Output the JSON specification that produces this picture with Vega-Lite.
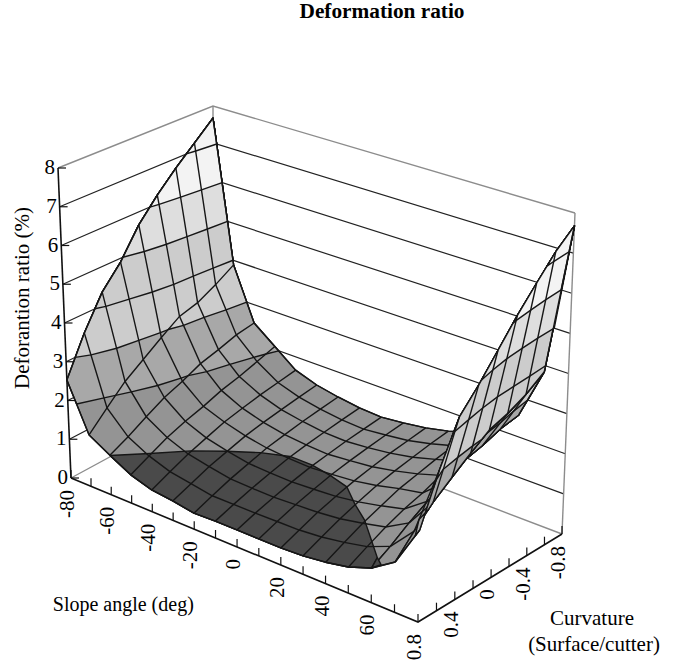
{"$schema":"https://vega.github.io/schema/vega-lite/v6.json","width":685,"height":665,"padding":0,"autosize":{"type":"none"},"background":"white","config":{"view":{"stroke":null}},
"data":{"values":[
{"set":"w","id":"l1","tone":"grid","slope":-80,"curvature":0.8,"ratio":1},{"set":"w","id":"l1","tone":"grid","slope":-80,"curvature":-0.8,"ratio":1},{"set":"w","id":"l1","tone":"grid","slope":80,"curvature":-0.8,"ratio":1},
{"set":"w","id":"l2","tone":"grid","slope":-80,"curvature":0.8,"ratio":2},{"set":"w","id":"l2","tone":"grid","slope":-80,"curvature":-0.8,"ratio":2},{"set":"w","id":"l2","tone":"grid","slope":80,"curvature":-0.8,"ratio":2},
{"set":"w","id":"l3","tone":"grid","slope":-80,"curvature":0.8,"ratio":3},{"set":"w","id":"l3","tone":"grid","slope":-80,"curvature":-0.8,"ratio":3},{"set":"w","id":"l3","tone":"grid","slope":80,"curvature":-0.8,"ratio":3},
{"set":"w","id":"l4","tone":"grid","slope":-80,"curvature":0.8,"ratio":4},{"set":"w","id":"l4","tone":"grid","slope":-80,"curvature":-0.8,"ratio":4},{"set":"w","id":"l4","tone":"grid","slope":80,"curvature":-0.8,"ratio":4},
{"set":"w","id":"l5","tone":"grid","slope":-80,"curvature":0.8,"ratio":5},{"set":"w","id":"l5","tone":"grid","slope":-80,"curvature":-0.8,"ratio":5},{"set":"w","id":"l5","tone":"grid","slope":80,"curvature":-0.8,"ratio":5},
{"set":"w","id":"l6","tone":"grid","slope":-80,"curvature":0.8,"ratio":6},{"set":"w","id":"l6","tone":"grid","slope":-80,"curvature":-0.8,"ratio":6},{"set":"w","id":"l6","tone":"grid","slope":80,"curvature":-0.8,"ratio":6},
{"set":"w","id":"l7","tone":"grid","slope":-80,"curvature":0.8,"ratio":7},{"set":"w","id":"l7","tone":"grid","slope":-80,"curvature":-0.8,"ratio":7},{"set":"w","id":"l7","tone":"grid","slope":80,"curvature":-0.8,"ratio":7},
{"set":"w","id":"l0","tone":"frame","slope":-80,"curvature":0.8,"ratio":0},{"set":"w","id":"l0","tone":"frame","slope":-80,"curvature":-0.8,"ratio":0},{"set":"w","id":"l0","tone":"frame","slope":80,"curvature":-0.8,"ratio":0},
{"set":"w","id":"l8","tone":"frame","slope":-80,"curvature":0.8,"ratio":8},{"set":"w","id":"l8","tone":"frame","slope":-80,"curvature":-0.8,"ratio":8},{"set":"w","id":"l8","tone":"frame","slope":80,"curvature":-0.8,"ratio":8},
{"set":"w","id":"vb","tone":"frame","slope":-80,"curvature":-0.8,"ratio":0},{"set":"w","id":"vb","tone":"frame","slope":-80,"curvature":-0.8,"ratio":8},
{"set":"w","id":"vr","tone":"frame","slope":80,"curvature":-0.8,"ratio":0},{"set":"w","id":"vr","tone":"frame","slope":80,"curvature":-0.8,"ratio":8},
{"set":"w","id":"az","tone":"axis","slope":-80,"curvature":0.8,"ratio":0},{"set":"w","id":"az","tone":"axis","slope":-80,"curvature":0.8,"ratio":8},
{"set":"w","id":"as","tone":"axis","slope":-80,"curvature":0.8,"ratio":0},{"set":"w","id":"as","tone":"axis","slope":80,"curvature":0.8,"ratio":0},{"set":"w","id":"as","tone":"axis","slope":80,"curvature":-0.8,"ratio":0},

{"set":"t","axis":"slope","slope":-80,"curvature":0.8,"ratio":0,"label":"-80"},{"set":"t","axis":"slope","slope":-70,"curvature":0.8,"ratio":0},{"set":"t","axis":"slope","slope":-60,"curvature":0.8,"ratio":0,"label":"-60"},{"set":"t","axis":"slope","slope":-50,"curvature":0.8,"ratio":0},{"set":"t","axis":"slope","slope":-40,"curvature":0.8,"ratio":0,"label":"-40"},{"set":"t","axis":"slope","slope":-30,"curvature":0.8,"ratio":0},{"set":"t","axis":"slope","slope":-20,"curvature":0.8,"ratio":0,"label":"-20"},{"set":"t","axis":"slope","slope":-10,"curvature":0.8,"ratio":0},{"set":"t","axis":"slope","slope":0,"curvature":0.8,"ratio":0,"label":"0"},{"set":"t","axis":"slope","slope":10,"curvature":0.8,"ratio":0},{"set":"t","axis":"slope","slope":20,"curvature":0.8,"ratio":0,"label":"20"},{"set":"t","axis":"slope","slope":30,"curvature":0.8,"ratio":0},{"set":"t","axis":"slope","slope":40,"curvature":0.8,"ratio":0,"label":"40"},{"set":"t","axis":"slope","slope":50,"curvature":0.8,"ratio":0},{"set":"t","axis":"slope","slope":60,"curvature":0.8,"ratio":0,"label":"60"},{"set":"t","axis":"slope","slope":70,"curvature":0.8,"ratio":0},
{"set":"t","axis":"curvature","slope":80,"curvature":0.8,"ratio":0,"label":"0.8"},{"set":"t","axis":"curvature","slope":80,"curvature":0.6,"ratio":0},{"set":"t","axis":"curvature","slope":80,"curvature":0.4,"ratio":0,"label":"0.4"},{"set":"t","axis":"curvature","slope":80,"curvature":0.2,"ratio":0},{"set":"t","axis":"curvature","slope":80,"curvature":0,"ratio":0,"label":"0"},{"set":"t","axis":"curvature","slope":80,"curvature":-0.2,"ratio":0},{"set":"t","axis":"curvature","slope":80,"curvature":-0.4,"ratio":0,"label":"-0.4"},{"set":"t","axis":"curvature","slope":80,"curvature":-0.6,"ratio":0},{"set":"t","axis":"curvature","slope":80,"curvature":-0.8,"ratio":0,"label":"-0.8"},
{"set":"t","axis":"ratio","slope":-80,"curvature":0.8,"ratio":0,"label":"0"},{"set":"t","axis":"ratio","slope":-80,"curvature":0.8,"ratio":1,"label":"1"},{"set":"t","axis":"ratio","slope":-80,"curvature":0.8,"ratio":2,"label":"2"},{"set":"t","axis":"ratio","slope":-80,"curvature":0.8,"ratio":3,"label":"3"},{"set":"t","axis":"ratio","slope":-80,"curvature":0.8,"ratio":4,"label":"4"},{"set":"t","axis":"ratio","slope":-80,"curvature":0.8,"ratio":5,"label":"5"},{"set":"t","axis":"ratio","slope":-80,"curvature":0.8,"ratio":6,"label":"6"},{"set":"t","axis":"ratio","slope":-80,"curvature":0.8,"ratio":7,"label":"7"},{"set":"t","axis":"ratio","slope":-80,"curvature":0.8,"ratio":8,"label":"8"},

{"set":"n","slope":-80,"curvature":-0.8,"ratio":8,"label":"Deformation ratio"},{"set":"n","slope":-40,"curvature":0.8,"ratio":0,"label":"Slope angle (deg)"},{"set":"n","slope":80,"curvature":-0.8,"ratio":0,"label":"Curvature"},{"set":"n","slope":80,"curvature":-0.8,"ratio":0,"label":"(Surface/cutter)"},{"set":"n","slope":-80,"curvature":0.8,"ratio":4,"label":"Deforantion ratio (%)"},

{"set":"p","part":"main","id":"m0","band":"1-2","slope":-80,"curvature":0.8,"ratio":2.53},{"set":"p","part":"main","id":"m0","band":"1-2","slope":-70,"curvature":0.8,"ratio":1.32},{"set":"p","part":"main","id":"m0","band":"1-2","slope":-60,"curvature":0.8,"ratio":1.01},{"set":"p","part":"main","id":"m0","band":"1-2","slope":-50,"curvature":0.8,"ratio":0.72},{"set":"p","part":"main","id":"m0","band":"1-2","slope":-40,"curvature":0.8,"ratio":0.55},{"set":"p","part":"main","id":"m0","band":"1-2","slope":-30,"curvature":0.8,"ratio":0.49},{"set":"p","part":"main","id":"m0","band":"1-2","slope":-20,"curvature":0.8,"ratio":0.4},{"set":"p","part":"main","id":"m0","band":"1-2","slope":-10,"curvature":0.8,"ratio":0.42},{"set":"p","part":"main","id":"m0","band":"1-2","slope":0,"curvature":0.8,"ratio":0.42},{"set":"p","part":"main","id":"m0","band":"1-2","slope":10,"curvature":0.8,"ratio":0.42},{"set":"p","part":"main","id":"m0","band":"1-2","slope":20,"curvature":0.8,"ratio":0.42},{"set":"p","part":"main","id":"m0","band":"1-2","slope":30,"curvature":0.8,"ratio":0.45},{"set":"p","part":"main","id":"m0","band":"1-2","slope":40,"curvature":0.8,"ratio":0.52},{"set":"p","part":"main","id":"m0","band":"1-2","slope":50,"curvature":0.8,"ratio":0.63},{"set":"p","part":"main","id":"m0","band":"1-2","slope":60,"curvature":0.8,"ratio":0.83},{"set":"p","part":"main","id":"m0","band":"1-2","slope":60,"curvature":0.6,"ratio":1.09},{"set":"p","part":"main","id":"m0","band":"1-2","slope":60,"curvature":0.4,"ratio":1.4},{"set":"p","part":"main","id":"m0","band":"1-2","slope":60,"curvature":0.2,"ratio":1.67},{"set":"p","part":"main","id":"m0","band":"1-2","slope":60,"curvature":0,"ratio":1.88},{"set":"p","part":"main","id":"m0","band":"1-2","slope":60,"curvature":-0.2,"ratio":2.17},{"set":"p","part":"main","id":"m0","band":"1-2","slope":60,"curvature":-0.4,"ratio":2.29},{"set":"p","part":"main","id":"m0","band":"1-2","slope":60,"curvature":-0.6,"ratio":2.46},{"set":"p","part":"main","id":"m0","band":"1-2","slope":60,"curvature":-0.8,"ratio":2.55},{"set":"p","part":"main","id":"m0","band":"1-2","slope":50,"curvature":-0.8,"ratio":2},{"set":"p","part":"main","id":"m0","band":"1-2","slope":40,"curvature":-0.8,"ratio":1.68},{"set":"p","part":"main","id":"m0","band":"1-2","slope":30,"curvature":-0.8,"ratio":1.51},{"set":"p","part":"main","id":"m0","band":"1-2","slope":20,"curvature":-0.8,"ratio":1.38},{"set":"p","part":"main","id":"m0","band":"1-2","slope":10,"curvature":-0.8,"ratio":1.3},{"set":"p","part":"main","id":"m0","band":"1-2","slope":0,"curvature":-0.8,"ratio":1.24},{"set":"p","part":"main","id":"m0","band":"1-2","slope":-10,"curvature":-0.8,"ratio":1.27},{"set":"p","part":"main","id":"m0","band":"1-2","slope":-20,"curvature":-0.8,"ratio":1.35},{"set":"p","part":"main","id":"m0","band":"1-2","slope":-30,"curvature":-0.8,"ratio":1.46},{"set":"p","part":"main","id":"m0","band":"1-2","slope":-40,"curvature":-0.8,"ratio":1.65},{"set":"p","part":"main","id":"m0","band":"1-2","slope":-50,"curvature":-0.8,"ratio":2.08},{"set":"p","part":"main","id":"m0","band":"1-2","slope":-60,"curvature":-0.8,"ratio":2.51},{"set":"p","part":"main","id":"m0","band":"1-2","slope":-70,"curvature":-0.8,"ratio":3.88},{"set":"p","part":"main","id":"m0","band":"1-2","slope":-80,"curvature":-0.8,"ratio":7.67},{"set":"p","part":"main","id":"m0","band":"1-2","slope":-80,"curvature":-0.6,"ratio":7.2},{"set":"p","part":"main","id":"m0","band":"1-2","slope":-80,"curvature":-0.4,"ratio":6.74},{"set":"p","part":"main","id":"m0","band":"1-2","slope":-80,"curvature":-0.2,"ratio":6.23},{"set":"p","part":"main","id":"m0","band":"1-2","slope":-80,"curvature":0,"ratio":5.66},{"set":"p","part":"main","id":"m0","band":"1-2","slope":-80,"curvature":0.2,"ratio":4.9},{"set":"p","part":"main","id":"m0","band":"1-2","slope":-80,"curvature":0.4,"ratio":4.34},{"set":"p","part":"main","id":"m0","band":"1-2","slope":-80,"curvature":0.6,"ratio":3.51},{"set":"p","part":"main","id":"m0","band":"1-2","slope":-80,"curvature":0.8,"ratio":2.53},

{"set":"p","part":"main","id":"m1","band":"0-1","slope":-60,"curvature":0.8,"ratio":1},{"set":"p","part":"main","id":"m1","band":"0-1","slope":-50,"curvature":0.59,"ratio":1},{"set":"p","part":"main","id":"m1","band":"0-1","slope":-40,"curvature":0.37,"ratio":1},{"set":"p","part":"main","id":"m1","band":"0-1","slope":-30,"curvature":0.21,"ratio":1},{"set":"p","part":"main","id":"m1","band":"0-1","slope":-20,"curvature":0.07,"ratio":1},{"set":"p","part":"main","id":"m1","band":"0-1","slope":-10,"curvature":-0.02,"ratio":1},{"set":"p","part":"main","id":"m1","band":"0-1","slope":0,"curvature":-0.02,"ratio":1},{"set":"p","part":"main","id":"m1","band":"0-1","slope":10,"curvature":0.02,"ratio":1},{"set":"p","part":"main","id":"m1","band":"0-1","slope":20,"curvature":0.08,"ratio":1},{"set":"p","part":"main","id":"m1","band":"0-1","slope":30,"curvature":0.24,"ratio":1},{"set":"p","part":"main","id":"m1","band":"0-1","slope":40,"curvature":0.38,"ratio":1},{"set":"p","part":"main","id":"m1","band":"0-1","slope":50,"curvature":0.56,"ratio":1},{"set":"p","part":"main","id":"m1","band":"0-1","slope":60,"curvature":0.74,"ratio":1},{"set":"p","part":"main","id":"m1","band":"0-1","slope":60,"curvature":0.8,"ratio":0.83},{"set":"p","part":"main","id":"m1","band":"0-1","slope":50,"curvature":0.8,"ratio":0.63},{"set":"p","part":"main","id":"m1","band":"0-1","slope":40,"curvature":0.8,"ratio":0.52},{"set":"p","part":"main","id":"m1","band":"0-1","slope":30,"curvature":0.8,"ratio":0.45},{"set":"p","part":"main","id":"m1","band":"0-1","slope":20,"curvature":0.8,"ratio":0.42},{"set":"p","part":"main","id":"m1","band":"0-1","slope":10,"curvature":0.8,"ratio":0.42},{"set":"p","part":"main","id":"m1","band":"0-1","slope":0,"curvature":0.8,"ratio":0.42},{"set":"p","part":"main","id":"m1","band":"0-1","slope":-10,"curvature":0.8,"ratio":0.42},{"set":"p","part":"main","id":"m1","band":"0-1","slope":-20,"curvature":0.8,"ratio":0.4},{"set":"p","part":"main","id":"m1","band":"0-1","slope":-30,"curvature":0.8,"ratio":0.49},{"set":"p","part":"main","id":"m1","band":"0-1","slope":-40,"curvature":0.8,"ratio":0.55},{"set":"p","part":"main","id":"m1","band":"0-1","slope":-50,"curvature":0.8,"ratio":0.72},{"set":"p","part":"main","id":"m1","band":"0-1","slope":-60,"curvature":0.8,"ratio":1},

{"set":"p","part":"main","id":"a2","band":"2-3","slope":-75.6,"curvature":0.8,"ratio":2},{"set":"p","part":"main","id":"a2","band":"2-3","slope":-71.3,"curvature":0.6,"ratio":2},{"set":"p","part":"main","id":"a2","band":"2-3","slope":-67,"curvature":0.4,"ratio":2},{"set":"p","part":"main","id":"a2","band":"2-3","slope":-63.2,"curvature":0.2,"ratio":2},{"set":"p","part":"main","id":"a2","band":"2-3","slope":-60.7,"curvature":0,"ratio":2},{"set":"p","part":"main","id":"a2","band":"2-3","slope":-60,"curvature":-0.064,"ratio":2},{"set":"p","part":"main","id":"a2","band":"2-3","slope":-57,"curvature":-0.2,"ratio":2},{"set":"p","part":"main","id":"a2","band":"2-3","slope":-54.5,"curvature":-0.4,"ratio":2},{"set":"p","part":"main","id":"a2","band":"2-3","slope":-51.6,"curvature":-0.6,"ratio":2},{"set":"p","part":"main","id":"a2","band":"2-3","slope":-50,"curvature":-0.7,"ratio":2},{"set":"p","part":"main","id":"a2","band":"2-3","slope":-48.1,"curvature":-0.8,"ratio":2},{"set":"p","part":"main","id":"a2","band":"2-3","slope":-50,"curvature":-0.8,"ratio":2.08},{"set":"p","part":"main","id":"a2","band":"2-3","slope":-60,"curvature":-0.8,"ratio":2.51},{"set":"p","part":"main","id":"a2","band":"2-3","slope":-70,"curvature":-0.8,"ratio":3.88},{"set":"p","part":"main","id":"a2","band":"2-3","slope":-80,"curvature":-0.8,"ratio":7.67},{"set":"p","part":"main","id":"a2","band":"2-3","slope":-80,"curvature":-0.6,"ratio":7.2},{"set":"p","part":"main","id":"a2","band":"2-3","slope":-80,"curvature":-0.4,"ratio":6.74},{"set":"p","part":"main","id":"a2","band":"2-3","slope":-80,"curvature":-0.2,"ratio":6.23},{"set":"p","part":"main","id":"a2","band":"2-3","slope":-80,"curvature":0,"ratio":5.66},{"set":"p","part":"main","id":"a2","band":"2-3","slope":-80,"curvature":0.2,"ratio":4.9},{"set":"p","part":"main","id":"a2","band":"2-3","slope":-80,"curvature":0.4,"ratio":4.34},{"set":"p","part":"main","id":"a2","band":"2-3","slope":-80,"curvature":0.6,"ratio":3.51},{"set":"p","part":"main","id":"a2","band":"2-3","slope":-80,"curvature":0.8,"ratio":2.53},{"set":"p","part":"main","id":"a2","band":"2-3","slope":-75.6,"curvature":0.8,"ratio":2},

{"set":"p","part":"main","id":"a3","band":"3-5","slope":-80,"curvature":0.704,"ratio":3},{"set":"p","part":"main","id":"a3","band":"3-5","slope":-77,"curvature":0.6,"ratio":3},{"set":"p","part":"main","id":"a3","band":"3-5","slope":-73.7,"curvature":0.4,"ratio":3},{"set":"p","part":"main","id":"a3","band":"3-5","slope":-72,"curvature":0.2,"ratio":3},{"set":"p","part":"main","id":"a3","band":"3-5","slope":-70.4,"curvature":0,"ratio":3},{"set":"p","part":"main","id":"a3","band":"3-5","slope":-70,"curvature":-0.075,"ratio":3},{"set":"p","part":"main","id":"a3","band":"3-5","slope":-68.1,"curvature":-0.2,"ratio":3},{"set":"p","part":"main","id":"a3","band":"3-5","slope":-66.9,"curvature":-0.4,"ratio":3},{"set":"p","part":"main","id":"a3","band":"3-5","slope":-65,"curvature":-0.6,"ratio":3},{"set":"p","part":"main","id":"a3","band":"3-5","slope":-63.6,"curvature":-0.8,"ratio":3},{"set":"p","part":"main","id":"a3","band":"3-5","slope":-70,"curvature":-0.8,"ratio":3.88},{"set":"p","part":"main","id":"a3","band":"3-5","slope":-80,"curvature":-0.8,"ratio":7.67},{"set":"p","part":"main","id":"a3","band":"3-5","slope":-80,"curvature":-0.6,"ratio":7.2},{"set":"p","part":"main","id":"a3","band":"3-5","slope":-80,"curvature":-0.4,"ratio":6.74},{"set":"p","part":"main","id":"a3","band":"3-5","slope":-80,"curvature":-0.2,"ratio":6.23},{"set":"p","part":"main","id":"a3","band":"3-5","slope":-80,"curvature":0,"ratio":5.66},{"set":"p","part":"main","id":"a3","band":"3-5","slope":-80,"curvature":0.2,"ratio":4.9},{"set":"p","part":"main","id":"a3","band":"3-5","slope":-80,"curvature":0.4,"ratio":4.34},{"set":"p","part":"main","id":"a3","band":"3-5","slope":-80,"curvature":0.6,"ratio":3.51},{"set":"p","part":"main","id":"a3","band":"3-5","slope":-80,"curvature":0.704,"ratio":3},

{"set":"p","part":"main","id":"a4","band":"3-5","slope":-80,"curvature":0.482,"ratio":4},{"set":"p","part":"main","id":"a4","band":"3-5","slope":-78.4,"curvature":0.4,"ratio":4},{"set":"p","part":"main","id":"a4","band":"3-5","slope":-76.2,"curvature":0.2,"ratio":4},{"set":"p","part":"main","id":"a4","band":"3-5","slope":-74,"curvature":0,"ratio":4},{"set":"p","part":"main","id":"a4","band":"3-5","slope":-72.6,"curvature":-0.2,"ratio":4},{"set":"p","part":"main","id":"a4","band":"3-5","slope":-72,"curvature":-0.4,"ratio":4},{"set":"p","part":"main","id":"a4","band":"3-5","slope":-71.2,"curvature":-0.6,"ratio":4},{"set":"p","part":"main","id":"a4","band":"3-5","slope":-70.3,"curvature":-0.8,"ratio":4},{"set":"p","part":"main","id":"a4","band":"3-5","slope":-80,"curvature":-0.8,"ratio":7.67},{"set":"p","part":"main","id":"a4","band":"3-5","slope":-80,"curvature":-0.6,"ratio":7.2},{"set":"p","part":"main","id":"a4","band":"3-5","slope":-80,"curvature":-0.4,"ratio":6.74},{"set":"p","part":"main","id":"a4","band":"3-5","slope":-80,"curvature":-0.2,"ratio":6.23},{"set":"p","part":"main","id":"a4","band":"3-5","slope":-80,"curvature":0,"ratio":5.66},{"set":"p","part":"main","id":"a4","band":"3-5","slope":-80,"curvature":0.2,"ratio":4.9},{"set":"p","part":"main","id":"a4","band":"3-5","slope":-80,"curvature":0.4,"ratio":4.34},{"set":"p","part":"main","id":"a4","band":"3-5","slope":-80,"curvature":0.482,"ratio":4},

{"set":"p","part":"main","id":"a5","band":"5-6","slope":-80,"curvature":0.174,"ratio":5},{"set":"p","part":"main","id":"a5","band":"5-6","slope":-77.6,"curvature":0,"ratio":5},{"set":"p","part":"main","id":"a5","band":"5-6","slope":-75.9,"curvature":-0.2,"ratio":5},{"set":"p","part":"main","id":"a5","band":"5-6","slope":-74.9,"curvature":-0.4,"ratio":5},{"set":"p","part":"main","id":"a5","band":"5-6","slope":-73.9,"curvature":-0.6,"ratio":5},{"set":"p","part":"main","id":"a5","band":"5-6","slope":-73,"curvature":-0.8,"ratio":5},{"set":"p","part":"main","id":"a5","band":"5-6","slope":-80,"curvature":-0.8,"ratio":7.67},{"set":"p","part":"main","id":"a5","band":"5-6","slope":-80,"curvature":-0.6,"ratio":7.2},{"set":"p","part":"main","id":"a5","band":"5-6","slope":-80,"curvature":-0.4,"ratio":6.74},{"set":"p","part":"main","id":"a5","band":"5-6","slope":-80,"curvature":-0.2,"ratio":6.23},{"set":"p","part":"main","id":"a5","band":"5-6","slope":-80,"curvature":0,"ratio":5.66},{"set":"p","part":"main","id":"a5","band":"5-6","slope":-80,"curvature":0.174,"ratio":5},

{"set":"p","part":"main","id":"a6","band":"6-8","slope":-80,"curvature":-0.12,"ratio":6},{"set":"p","part":"main","id":"a6","band":"6-8","slope":-79.2,"curvature":-0.2,"ratio":6},{"set":"p","part":"main","id":"a6","band":"6-8","slope":-77.8,"curvature":-0.4,"ratio":6},{"set":"p","part":"main","id":"a6","band":"6-8","slope":-76.7,"curvature":-0.6,"ratio":6},{"set":"p","part":"main","id":"a6","band":"6-8","slope":-75.6,"curvature":-0.8,"ratio":6},{"set":"p","part":"main","id":"a6","band":"6-8","slope":-80,"curvature":-0.8,"ratio":7.67},{"set":"p","part":"main","id":"a6","band":"6-8","slope":-80,"curvature":-0.6,"ratio":7.2},{"set":"p","part":"main","id":"a6","band":"6-8","slope":-80,"curvature":-0.4,"ratio":6.74},{"set":"p","part":"main","id":"a6","band":"6-8","slope":-80,"curvature":-0.2,"ratio":6.23},{"set":"p","part":"main","id":"a6","band":"6-8","slope":-80,"curvature":-0.12,"ratio":6},

{"set":"p","part":"main","id":"a7","band":"6-8","slope":-80,"curvature":-0.513,"ratio":7},{"set":"p","part":"main","id":"a7","band":"6-8","slope":-79.4,"curvature":-0.6,"ratio":7},{"set":"p","part":"main","id":"a7","band":"6-8","slope":-78.2,"curvature":-0.8,"ratio":7},{"set":"p","part":"main","id":"a7","band":"6-8","slope":-80,"curvature":-0.8,"ratio":7.67},{"set":"p","part":"main","id":"a7","band":"6-8","slope":-80,"curvature":-0.6,"ratio":7.2},{"set":"p","part":"main","id":"a7","band":"6-8","slope":-80,"curvature":-0.513,"ratio":7},

{"set":"p","part":"main","id":"r2","band":"2-3","slope":50,"curvature":-0.8,"ratio":2},{"set":"p","part":"main","id":"r2","band":"2-3","slope":52.6,"curvature":-0.6,"ratio":2},{"set":"p","part":"main","id":"r2","band":"2-3","slope":55.2,"curvature":-0.4,"ratio":2},{"set":"p","part":"main","id":"r2","band":"2-3","slope":57.1,"curvature":-0.2,"ratio":2},{"set":"p","part":"main","id":"r2","band":"2-3","slope":60,"curvature":-0.083,"ratio":2},{"set":"p","part":"main","id":"r2","band":"2-3","slope":60,"curvature":-0.2,"ratio":2.17},{"set":"p","part":"main","id":"r2","band":"2-3","slope":60,"curvature":-0.4,"ratio":2.29},{"set":"p","part":"main","id":"r2","band":"2-3","slope":60,"curvature":-0.6,"ratio":2.46},{"set":"p","part":"main","id":"r2","band":"2-3","slope":60,"curvature":-0.8,"ratio":2.55},{"set":"p","part":"main","id":"r2","band":"2-3","slope":50,"curvature":-0.8,"ratio":2},

{"set":"p","part":"s1","id":"b0","band":"1-2","slope":60,"curvature":0.8,"ratio":0.83},{"set":"p","part":"s1","id":"b0","band":"1-2","slope":70,"curvature":0.8,"ratio":1.2},{"set":"p","part":"s1","id":"b0","band":"1-2","slope":70,"curvature":0.6,"ratio":1.68},{"set":"p","part":"s1","id":"b0","band":"1-2","slope":70,"curvature":0.4,"ratio":2.12},{"set":"p","part":"s1","id":"b0","band":"1-2","slope":70,"curvature":0.2,"ratio":2.47},{"set":"p","part":"s1","id":"b0","band":"1-2","slope":70,"curvature":0,"ratio":2.81},{"set":"p","part":"s1","id":"b0","band":"1-2","slope":70,"curvature":-0.2,"ratio":3.13},{"set":"p","part":"s1","id":"b0","band":"1-2","slope":70,"curvature":-0.4,"ratio":3.29},{"set":"p","part":"s1","id":"b0","band":"1-2","slope":70,"curvature":-0.6,"ratio":3.52},{"set":"p","part":"s1","id":"b0","band":"1-2","slope":70,"curvature":-0.8,"ratio":3.84},{"set":"p","part":"s1","id":"b0","band":"1-2","slope":60,"curvature":-0.8,"ratio":2.55},{"set":"p","part":"s1","id":"b0","band":"1-2","slope":60,"curvature":-0.6,"ratio":2.46},{"set":"p","part":"s1","id":"b0","band":"1-2","slope":60,"curvature":-0.4,"ratio":2.29},{"set":"p","part":"s1","id":"b0","band":"1-2","slope":60,"curvature":-0.2,"ratio":2.17},{"set":"p","part":"s1","id":"b0","band":"1-2","slope":60,"curvature":0,"ratio":1.88},{"set":"p","part":"s1","id":"b0","band":"1-2","slope":60,"curvature":0.2,"ratio":1.67},{"set":"p","part":"s1","id":"b0","band":"1-2","slope":60,"curvature":0.4,"ratio":1.4},{"set":"p","part":"s1","id":"b0","band":"1-2","slope":60,"curvature":0.6,"ratio":1.09},{"set":"p","part":"s1","id":"b0","band":"1-2","slope":60,"curvature":0.8,"ratio":0.83},

{"set":"p","part":"s1","id":"b1","band":"0-1","slope":60,"curvature":0.74,"ratio":1},{"set":"p","part":"s1","id":"b1","band":"0-1","slope":64,"curvature":0.8,"ratio":1},{"set":"p","part":"s1","id":"b1","band":"0-1","slope":60,"curvature":0.8,"ratio":0.83},{"set":"p","part":"s1","id":"b1","band":"0-1","slope":60,"curvature":0.74,"ratio":1},

{"set":"p","part":"s1","id":"b2","band":"2-3","slope":60,"curvature":-0.083,"ratio":2},{"set":"p","part":"s1","id":"b2","band":"2-3","slope":61.3,"curvature":0,"ratio":2},{"set":"p","part":"s1","id":"b2","band":"2-3","slope":64.1,"curvature":0.2,"ratio":2},{"set":"p","part":"s1","id":"b2","band":"2-3","slope":68.3,"curvature":0.4,"ratio":2},{"set":"p","part":"s1","id":"b2","band":"2-3","slope":70,"curvature":0.455,"ratio":2},{"set":"p","part":"s1","id":"b2","band":"2-3","slope":70,"curvature":0.4,"ratio":2.12},{"set":"p","part":"s1","id":"b2","band":"2-3","slope":70,"curvature":0.2,"ratio":2.47},{"set":"p","part":"s1","id":"b2","band":"2-3","slope":70,"curvature":0,"ratio":2.81},{"set":"p","part":"s1","id":"b2","band":"2-3","slope":70,"curvature":-0.2,"ratio":3.13},{"set":"p","part":"s1","id":"b2","band":"2-3","slope":70,"curvature":-0.4,"ratio":3.29},{"set":"p","part":"s1","id":"b2","band":"2-3","slope":70,"curvature":-0.6,"ratio":3.52},{"set":"p","part":"s1","id":"b2","band":"2-3","slope":70,"curvature":-0.8,"ratio":3.84},{"set":"p","part":"s1","id":"b2","band":"2-3","slope":60,"curvature":-0.8,"ratio":2.55},{"set":"p","part":"s1","id":"b2","band":"2-3","slope":60,"curvature":-0.6,"ratio":2.46},{"set":"p","part":"s1","id":"b2","band":"2-3","slope":60,"curvature":-0.4,"ratio":2.29},{"set":"p","part":"s1","id":"b2","band":"2-3","slope":60,"curvature":-0.2,"ratio":2.17},{"set":"p","part":"s1","id":"b2","band":"2-3","slope":60,"curvature":-0.083,"ratio":2},

{"set":"p","part":"s1","id":"b3","band":"3-5","slope":63.5,"curvature":-0.8,"ratio":3},{"set":"p","part":"s1","id":"b3","band":"3-5","slope":65.1,"curvature":-0.6,"ratio":3},{"set":"p","part":"s1","id":"b3","band":"3-5","slope":67.1,"curvature":-0.4,"ratio":3},{"set":"p","part":"s1","id":"b3","band":"3-5","slope":68.6,"curvature":-0.2,"ratio":3},{"set":"p","part":"s1","id":"b3","band":"3-5","slope":70,"curvature":-0.119,"ratio":3},{"set":"p","part":"s1","id":"b3","band":"3-5","slope":70,"curvature":-0.2,"ratio":3.13},{"set":"p","part":"s1","id":"b3","band":"3-5","slope":70,"curvature":-0.4,"ratio":3.29},{"set":"p","part":"s1","id":"b3","band":"3-5","slope":70,"curvature":-0.6,"ratio":3.52},{"set":"p","part":"s1","id":"b3","band":"3-5","slope":70,"curvature":-0.8,"ratio":3.84},{"set":"p","part":"s1","id":"b3","band":"3-5","slope":63.5,"curvature":-0.8,"ratio":3},

{"set":"p","part":"s2","id":"c0","band":"1-2","slope":70,"curvature":0.8,"ratio":1.2},{"set":"p","part":"s2","id":"c0","band":"1-2","slope":80,"curvature":0.8,"ratio":2.18},{"set":"p","part":"s2","id":"c0","band":"1-2","slope":80,"curvature":0.6,"ratio":3.36},{"set":"p","part":"s2","id":"c0","band":"1-2","slope":80,"curvature":0.4,"ratio":4.38},{"set":"p","part":"s2","id":"c0","band":"1-2","slope":80,"curvature":0.2,"ratio":4.91},{"set":"p","part":"s2","id":"c0","band":"1-2","slope":80,"curvature":0,"ratio":5.52},{"set":"p","part":"s2","id":"c0","band":"1-2","slope":80,"curvature":-0.2,"ratio":6.14},{"set":"p","part":"s2","id":"c0","band":"1-2","slope":80,"curvature":-0.4,"ratio":6.7},{"set":"p","part":"s2","id":"c0","band":"1-2","slope":80,"curvature":-0.6,"ratio":7.25},{"set":"p","part":"s2","id":"c0","band":"1-2","slope":80,"curvature":-0.8,"ratio":7.68},{"set":"p","part":"s2","id":"c0","band":"1-2","slope":70,"curvature":-0.8,"ratio":3.84},{"set":"p","part":"s2","id":"c0","band":"1-2","slope":70,"curvature":-0.6,"ratio":3.52},{"set":"p","part":"s2","id":"c0","band":"1-2","slope":70,"curvature":-0.4,"ratio":3.29},{"set":"p","part":"s2","id":"c0","band":"1-2","slope":70,"curvature":-0.2,"ratio":3.13},{"set":"p","part":"s2","id":"c0","band":"1-2","slope":70,"curvature":0,"ratio":2.81},{"set":"p","part":"s2","id":"c0","band":"1-2","slope":70,"curvature":0.2,"ratio":2.47},{"set":"p","part":"s2","id":"c0","band":"1-2","slope":70,"curvature":0.4,"ratio":2.12},{"set":"p","part":"s2","id":"c0","band":"1-2","slope":70,"curvature":0.6,"ratio":1.68},{"set":"p","part":"s2","id":"c0","band":"1-2","slope":70,"curvature":0.8,"ratio":1.2},

{"set":"p","part":"s2","id":"c2","band":"2-3","slope":78.2,"curvature":0.8,"ratio":2},{"set":"p","part":"s2","id":"c2","band":"2-3","slope":71.9,"curvature":0.6,"ratio":2},{"set":"p","part":"s2","id":"c2","band":"2-3","slope":70,"curvature":0.455,"ratio":2},{"set":"p","part":"s2","id":"c2","band":"2-3","slope":70,"curvature":0.4,"ratio":2.12},{"set":"p","part":"s2","id":"c2","band":"2-3","slope":70,"curvature":0.2,"ratio":2.47},{"set":"p","part":"s2","id":"c2","band":"2-3","slope":70,"curvature":0,"ratio":2.81},{"set":"p","part":"s2","id":"c2","band":"2-3","slope":70,"curvature":-0.2,"ratio":3.13},{"set":"p","part":"s2","id":"c2","band":"2-3","slope":70,"curvature":-0.4,"ratio":3.29},{"set":"p","part":"s2","id":"c2","band":"2-3","slope":70,"curvature":-0.6,"ratio":3.52},{"set":"p","part":"s2","id":"c2","band":"2-3","slope":70,"curvature":-0.8,"ratio":3.84},{"set":"p","part":"s2","id":"c2","band":"2-3","slope":80,"curvature":-0.8,"ratio":7.68},{"set":"p","part":"s2","id":"c2","band":"2-3","slope":80,"curvature":-0.6,"ratio":7.25},{"set":"p","part":"s2","id":"c2","band":"2-3","slope":80,"curvature":-0.4,"ratio":6.7},{"set":"p","part":"s2","id":"c2","band":"2-3","slope":80,"curvature":-0.2,"ratio":6.14},{"set":"p","part":"s2","id":"c2","band":"2-3","slope":80,"curvature":0,"ratio":5.52},{"set":"p","part":"s2","id":"c2","band":"2-3","slope":80,"curvature":0.2,"ratio":4.91},{"set":"p","part":"s2","id":"c2","band":"2-3","slope":80,"curvature":0.4,"ratio":4.38},{"set":"p","part":"s2","id":"c2","band":"2-3","slope":80,"curvature":0.6,"ratio":3.36},{"set":"p","part":"s2","id":"c2","band":"2-3","slope":80,"curvature":0.8,"ratio":2.18},{"set":"p","part":"s2","id":"c2","band":"2-3","slope":78.2,"curvature":0.8,"ratio":2},

{"set":"p","part":"s2","id":"c3","band":"3-5","slope":80,"curvature":0.661,"ratio":3},{"set":"p","part":"s2","id":"c3","band":"3-5","slope":77.9,"curvature":0.6,"ratio":3},{"set":"p","part":"s2","id":"c3","band":"3-5","slope":73.9,"curvature":0.4,"ratio":3},{"set":"p","part":"s2","id":"c3","band":"3-5","slope":72.2,"curvature":0.2,"ratio":3},{"set":"p","part":"s2","id":"c3","band":"3-5","slope":70.7,"curvature":0,"ratio":3},{"set":"p","part":"s2","id":"c3","band":"3-5","slope":70,"curvature":-0.119,"ratio":3},{"set":"p","part":"s2","id":"c3","band":"3-5","slope":70,"curvature":-0.2,"ratio":3.13},{"set":"p","part":"s2","id":"c3","band":"3-5","slope":70,"curvature":-0.4,"ratio":3.29},{"set":"p","part":"s2","id":"c3","band":"3-5","slope":70,"curvature":-0.6,"ratio":3.52},{"set":"p","part":"s2","id":"c3","band":"3-5","slope":70,"curvature":-0.8,"ratio":3.84},{"set":"p","part":"s2","id":"c3","band":"3-5","slope":80,"curvature":-0.8,"ratio":7.68},{"set":"p","part":"s2","id":"c3","band":"3-5","slope":80,"curvature":-0.6,"ratio":7.25},{"set":"p","part":"s2","id":"c3","band":"3-5","slope":80,"curvature":-0.4,"ratio":6.7},{"set":"p","part":"s2","id":"c3","band":"3-5","slope":80,"curvature":-0.2,"ratio":6.14},{"set":"p","part":"s2","id":"c3","band":"3-5","slope":80,"curvature":0,"ratio":5.52},{"set":"p","part":"s2","id":"c3","band":"3-5","slope":80,"curvature":0.2,"ratio":4.91},{"set":"p","part":"s2","id":"c3","band":"3-5","slope":80,"curvature":0.4,"ratio":4.38},{"set":"p","part":"s2","id":"c3","band":"3-5","slope":80,"curvature":0.6,"ratio":3.36},{"set":"p","part":"s2","id":"c3","band":"3-5","slope":80,"curvature":0.661,"ratio":3},

{"set":"p","part":"s2","id":"c4","band":"3-5","slope":80,"curvature":0.475,"ratio":4},{"set":"p","part":"s2","id":"c4","band":"3-5","slope":78.3,"curvature":0.4,"ratio":4},{"set":"p","part":"s2","id":"c4","band":"3-5","slope":76.3,"curvature":0.2,"ratio":4},{"set":"p","part":"s2","id":"c4","band":"3-5","slope":74.4,"curvature":0,"ratio":4},{"set":"p","part":"s2","id":"c4","band":"3-5","slope":72.9,"curvature":-0.2,"ratio":4},{"set":"p","part":"s2","id":"c4","band":"3-5","slope":72.1,"curvature":-0.4,"ratio":4},{"set":"p","part":"s2","id":"c4","band":"3-5","slope":71.3,"curvature":-0.6,"ratio":4},{"set":"p","part":"s2","id":"c4","band":"3-5","slope":70.4,"curvature":-0.8,"ratio":4},{"set":"p","part":"s2","id":"c4","band":"3-5","slope":80,"curvature":-0.8,"ratio":7.68},{"set":"p","part":"s2","id":"c4","band":"3-5","slope":80,"curvature":-0.6,"ratio":7.25},{"set":"p","part":"s2","id":"c4","band":"3-5","slope":80,"curvature":-0.4,"ratio":6.7},{"set":"p","part":"s2","id":"c4","band":"3-5","slope":80,"curvature":-0.2,"ratio":6.14},{"set":"p","part":"s2","id":"c4","band":"3-5","slope":80,"curvature":0,"ratio":5.52},{"set":"p","part":"s2","id":"c4","band":"3-5","slope":80,"curvature":0.2,"ratio":4.91},{"set":"p","part":"s2","id":"c4","band":"3-5","slope":80,"curvature":0.4,"ratio":4.38},{"set":"p","part":"s2","id":"c4","band":"3-5","slope":80,"curvature":0.475,"ratio":4},

{"set":"p","part":"s2","id":"c5","band":"5-6","slope":80,"curvature":0.17,"ratio":5},{"set":"p","part":"s2","id":"c5","band":"5-6","slope":78.1,"curvature":0,"ratio":5},{"set":"p","part":"s2","id":"c5","band":"5-6","slope":76.2,"curvature":-0.2,"ratio":5},{"set":"p","part":"s2","id":"c5","band":"5-6","slope":75,"curvature":-0.4,"ratio":5},{"set":"p","part":"s2","id":"c5","band":"5-6","slope":74,"curvature":-0.6,"ratio":5},{"set":"p","part":"s2","id":"c5","band":"5-6","slope":73.4,"curvature":-0.8,"ratio":5},{"set":"p","part":"s2","id":"c5","band":"5-6","slope":80,"curvature":-0.8,"ratio":7.68},{"set":"p","part":"s2","id":"c5","band":"5-6","slope":80,"curvature":-0.6,"ratio":7.25},{"set":"p","part":"s2","id":"c5","band":"5-6","slope":80,"curvature":-0.4,"ratio":6.7},{"set":"p","part":"s2","id":"c5","band":"5-6","slope":80,"curvature":-0.2,"ratio":6.14},{"set":"p","part":"s2","id":"c5","band":"5-6","slope":80,"curvature":0,"ratio":5.52},{"set":"p","part":"s2","id":"c5","band":"5-6","slope":80,"curvature":0.17,"ratio":5},

{"set":"p","part":"s2","id":"c6","band":"6-8","slope":80,"curvature":-0.155,"ratio":6},{"set":"p","part":"s2","id":"c6","band":"6-8","slope":79.5,"curvature":-0.2,"ratio":6},{"set":"p","part":"s2","id":"c6","band":"6-8","slope":78,"curvature":-0.4,"ratio":6},{"set":"p","part":"s2","id":"c6","band":"6-8","slope":76.6,"curvature":-0.6,"ratio":6},{"set":"p","part":"s2","id":"c6","band":"6-8","slope":75.6,"curvature":-0.8,"ratio":6},{"set":"p","part":"s2","id":"c6","band":"6-8","slope":80,"curvature":-0.8,"ratio":7.68},{"set":"p","part":"s2","id":"c6","band":"6-8","slope":80,"curvature":-0.6,"ratio":7.25},{"set":"p","part":"s2","id":"c6","band":"6-8","slope":80,"curvature":-0.4,"ratio":6.7},{"set":"p","part":"s2","id":"c6","band":"6-8","slope":80,"curvature":-0.2,"ratio":6.14},{"set":"p","part":"s2","id":"c6","band":"6-8","slope":80,"curvature":-0.155,"ratio":6},

{"set":"p","part":"s2","id":"c7","band":"6-8","slope":80,"curvature":-0.509,"ratio":7},{"set":"p","part":"s2","id":"c7","band":"6-8","slope":79.3,"curvature":-0.6,"ratio":7},{"set":"p","part":"s2","id":"c7","band":"6-8","slope":78.2,"curvature":-0.8,"ratio":7},{"set":"p","part":"s2","id":"c7","band":"6-8","slope":80,"curvature":-0.8,"ratio":7.68},{"set":"p","part":"s2","id":"c7","band":"6-8","slope":80,"curvature":-0.6,"ratio":7.25},{"set":"p","part":"s2","id":"c7","band":"6-8","slope":80,"curvature":-0.509,"ratio":7},

{"set":"g","slope":-80,"curvature":0.8,"ratio":2.53},{"set":"g","slope":-80,"curvature":0.6,"ratio":3.51},{"set":"g","slope":-80,"curvature":0.4,"ratio":4.34},{"set":"g","slope":-80,"curvature":0.2,"ratio":4.9},{"set":"g","slope":-80,"curvature":0,"ratio":5.66},{"set":"g","slope":-80,"curvature":-0.2,"ratio":6.23},{"set":"g","slope":-80,"curvature":-0.4,"ratio":6.74},{"set":"g","slope":-80,"curvature":-0.6,"ratio":7.2},{"set":"g","slope":-80,"curvature":-0.8,"ratio":7.67},
{"set":"g","slope":-70,"curvature":0.8,"ratio":1.32},{"set":"g","slope":-70,"curvature":0.6,"ratio":1.77},{"set":"g","slope":-70,"curvature":0.4,"ratio":2.21},{"set":"g","slope":-70,"curvature":0.2,"ratio":2.54},{"set":"g","slope":-70,"curvature":0,"ratio":2.88},{"set":"g","slope":-70,"curvature":-0.2,"ratio":3.2},{"set":"g","slope":-70,"curvature":-0.4,"ratio":3.33},{"set":"g","slope":-70,"curvature":-0.6,"ratio":3.58},{"set":"g","slope":-70,"curvature":-0.8,"ratio":3.88},
{"set":"g","slope":-60,"curvature":0.8,"ratio":1.01},{"set":"g","slope":-60,"curvature":0.6,"ratio":1.23},{"set":"g","slope":-60,"curvature":0.4,"ratio":1.5},{"set":"g","slope":-60,"curvature":0.2,"ratio":1.75},{"set":"g","slope":-60,"curvature":0,"ratio":1.93},{"set":"g","slope":-60,"curvature":-0.2,"ratio":2.15},{"set":"g","slope":-60,"curvature":-0.4,"ratio":2.28},{"set":"g","slope":-60,"curvature":-0.6,"ratio":2.43},{"set":"g","slope":-60,"curvature":-0.8,"ratio":2.51},
{"set":"g","slope":-50,"curvature":0.8,"ratio":0.72},{"set":"g","slope":-50,"curvature":0.6,"ratio":0.95},{"set":"g","slope":-50,"curvature":0.4,"ratio":1.17},{"set":"g","slope":-50,"curvature":0.2,"ratio":1.34},{"set":"g","slope":-50,"curvature":0,"ratio":1.48},{"set":"g","slope":-50,"curvature":-0.2,"ratio":1.65},{"set":"g","slope":-50,"curvature":-0.4,"ratio":1.77},{"set":"g","slope":-50,"curvature":-0.6,"ratio":1.92},{"set":"g","slope":-50,"curvature":-0.8,"ratio":2.08},
{"set":"g","slope":-40,"curvature":0.8,"ratio":0.55},{"set":"g","slope":-40,"curvature":0.6,"ratio":0.76},{"set":"g","slope":-40,"curvature":0.4,"ratio":0.96},{"set":"g","slope":-40,"curvature":0.2,"ratio":1.12},{"set":"g","slope":-40,"curvature":0,"ratio":1.28},{"set":"g","slope":-40,"curvature":-0.2,"ratio":1.39},{"set":"g","slope":-40,"curvature":-0.4,"ratio":1.49},{"set":"g","slope":-40,"curvature":-0.6,"ratio":1.57},{"set":"g","slope":-40,"curvature":-0.8,"ratio":1.65},
{"set":"g","slope":-30,"curvature":0.8,"ratio":0.49},{"set":"g","slope":-30,"curvature":0.6,"ratio":0.67},{"set":"g","slope":-30,"curvature":0.4,"ratio":0.85},{"set":"g","slope":-30,"curvature":0.2,"ratio":0.99},{"set":"g","slope":-30,"curvature":0,"ratio":1.13},{"set":"g","slope":-30,"curvature":-0.2,"ratio":1.23},{"set":"g","slope":-30,"curvature":-0.4,"ratio":1.31},{"set":"g","slope":-30,"curvature":-0.6,"ratio":1.39},{"set":"g","slope":-30,"curvature":-0.8,"ratio":1.46},
{"set":"g","slope":-20,"curvature":0.8,"ratio":0.4},{"set":"g","slope":-20,"curvature":0.6,"ratio":0.58},{"set":"g","slope":-20,"curvature":0.4,"ratio":0.75},{"set":"g","slope":-20,"curvature":0.2,"ratio":0.89},{"set":"g","slope":-20,"curvature":0,"ratio":1.03},{"set":"g","slope":-20,"curvature":-0.2,"ratio":1.12},{"set":"g","slope":-20,"curvature":-0.4,"ratio":1.21},{"set":"g","slope":-20,"curvature":-0.6,"ratio":1.28},{"set":"g","slope":-20,"curvature":-0.8,"ratio":1.35},
{"set":"g","slope":-10,"curvature":0.8,"ratio":0.42},{"set":"g","slope":-10,"curvature":0.6,"ratio":0.58},{"set":"g","slope":-10,"curvature":0.4,"ratio":0.73},{"set":"g","slope":-10,"curvature":0.2,"ratio":0.86},{"set":"g","slope":-10,"curvature":0,"ratio":0.98},{"set":"g","slope":-10,"curvature":-0.2,"ratio":1.07},{"set":"g","slope":-10,"curvature":-0.4,"ratio":1.14},{"set":"g","slope":-10,"curvature":-0.6,"ratio":1.21},{"set":"g","slope":-10,"curvature":-0.8,"ratio":1.27},
{"set":"g","slope":0,"curvature":0.8,"ratio":0.42},{"set":"g","slope":0,"curvature":0.6,"ratio":0.58},{"set":"g","slope":0,"curvature":0.4,"ratio":0.72},{"set":"g","slope":0,"curvature":0.2,"ratio":0.85},{"set":"g","slope":0,"curvature":0,"ratio":0.96},{"set":"g","slope":0,"curvature":-0.2,"ratio":1.04},{"set":"g","slope":0,"curvature":-0.4,"ratio":1.12},{"set":"g","slope":0,"curvature":-0.6,"ratio":1.18},{"set":"g","slope":0,"curvature":-0.8,"ratio":1.24},
{"set":"g","slope":10,"curvature":0.8,"ratio":0.42},{"set":"g","slope":10,"curvature":0.6,"ratio":0.59},{"set":"g","slope":10,"curvature":0.4,"ratio":0.75},{"set":"g","slope":10,"curvature":0.2,"ratio":0.88},{"set":"g","slope":10,"curvature":0,"ratio":1},{"set":"g","slope":10,"curvature":-0.2,"ratio":1.09},{"set":"g","slope":10,"curvature":-0.4,"ratio":1.17},{"set":"g","slope":10,"curvature":-0.6,"ratio":1.24},{"set":"g","slope":10,"curvature":-0.8,"ratio":1.3},
{"set":"g","slope":20,"curvature":0.8,"ratio":0.42},{"set":"g","slope":20,"curvature":0.6,"ratio":0.6},{"set":"g","slope":20,"curvature":0.4,"ratio":0.78},{"set":"g","slope":20,"curvature":0.2,"ratio":0.92},{"set":"g","slope":20,"curvature":0,"ratio":1.05},{"set":"g","slope":20,"curvature":-0.2,"ratio":1.15},{"set":"g","slope":20,"curvature":-0.4,"ratio":1.24},{"set":"g","slope":20,"curvature":-0.6,"ratio":1.31},{"set":"g","slope":20,"curvature":-0.8,"ratio":1.38},
{"set":"g","slope":30,"curvature":0.8,"ratio":0.45},{"set":"g","slope":30,"curvature":0.6,"ratio":0.65},{"set":"g","slope":30,"curvature":0.4,"ratio":0.84},{"set":"g","slope":30,"curvature":0.2,"ratio":1},{"set":"g","slope":30,"curvature":0,"ratio":1.15},{"set":"g","slope":30,"curvature":-0.2,"ratio":1.26},{"set":"g","slope":30,"curvature":-0.4,"ratio":1.35},{"set":"g","slope":30,"curvature":-0.6,"ratio":1.44},{"set":"g","slope":30,"curvature":-0.8,"ratio":1.51},
{"set":"g","slope":40,"curvature":0.8,"ratio":0.52},{"set":"g","slope":40,"curvature":0.6,"ratio":0.74},{"set":"g","slope":40,"curvature":0.4,"ratio":0.95},{"set":"g","slope":40,"curvature":0.2,"ratio":1.12},{"set":"g","slope":40,"curvature":0,"ratio":1.29},{"set":"g","slope":40,"curvature":-0.2,"ratio":1.4},{"set":"g","slope":40,"curvature":-0.4,"ratio":1.51},{"set":"g","slope":40,"curvature":-0.6,"ratio":1.6},{"set":"g","slope":40,"curvature":-0.8,"ratio":1.68},
{"set":"g","slope":50,"curvature":0.8,"ratio":0.63},{"set":"g","slope":50,"curvature":0.6,"ratio":0.86},{"set":"g","slope":50,"curvature":0.4,"ratio":1.08},{"set":"g","slope":50,"curvature":0.2,"ratio":1.26},{"set":"g","slope":50,"curvature":0,"ratio":1.4},{"set":"g","slope":50,"curvature":-0.2,"ratio":1.58},{"set":"g","slope":50,"curvature":-0.4,"ratio":1.68},{"set":"g","slope":50,"curvature":-0.6,"ratio":1.84},{"set":"g","slope":50,"curvature":-0.8,"ratio":2},
{"set":"g","slope":60,"curvature":0.8,"ratio":0.83},{"set":"g","slope":60,"curvature":0.6,"ratio":1.09},{"set":"g","slope":60,"curvature":0.4,"ratio":1.4},{"set":"g","slope":60,"curvature":0.2,"ratio":1.67},{"set":"g","slope":60,"curvature":0,"ratio":1.88},{"set":"g","slope":60,"curvature":-0.2,"ratio":2.17},{"set":"g","slope":60,"curvature":-0.4,"ratio":2.29},{"set":"g","slope":60,"curvature":-0.6,"ratio":2.46},{"set":"g","slope":60,"curvature":-0.8,"ratio":2.55},
{"set":"g","slope":70,"curvature":0.8,"ratio":1.2},{"set":"g","slope":70,"curvature":0.6,"ratio":1.68},{"set":"g","slope":70,"curvature":0.4,"ratio":2.12},{"set":"g","slope":70,"curvature":0.2,"ratio":2.47},{"set":"g","slope":70,"curvature":0,"ratio":2.81},{"set":"g","slope":70,"curvature":-0.2,"ratio":3.13},{"set":"g","slope":70,"curvature":-0.4,"ratio":3.29},{"set":"g","slope":70,"curvature":-0.6,"ratio":3.52},{"set":"g","slope":70,"curvature":-0.8,"ratio":3.84},
{"set":"g","slope":80,"curvature":0.8,"ratio":2.18},{"set":"g","slope":80,"curvature":0.6,"ratio":3.36},{"set":"g","slope":80,"curvature":0.4,"ratio":4.38},{"set":"g","slope":80,"curvature":0.2,"ratio":4.91},{"set":"g","slope":80,"curvature":0,"ratio":5.52},{"set":"g","slope":80,"curvature":-0.2,"ratio":6.14},{"set":"g","slope":80,"curvature":-0.4,"ratio":6.7},{"set":"g","slope":80,"curvature":-0.6,"ratio":7.25},{"set":"g","slope":80,"curvature":-0.8,"ratio":7.68}
]},
"transform":[
{"calculate":"(datum.slope+80)/160","as":"u"},
{"calculate":"(0.8-datum.curvature)/1.6","as":"v"},
{"calculate":"datum.ratio/8","as":"t"},
{"calculate":"1-0.0823*datum.u+0.0282*datum.v","as":"fw"},
{"calculate":"1-0.0756*datum.u+0.0426*datum.v","as":"tw"},
{"calculate":"(312.6*datum.u+148*datum.v+71)/datum.fw","as":"fx"},
{"calculate":"(92.8*datum.u-65.7*datum.v+478)/datum.fw","as":"fy"},
{"calculate":"(333.95*datum.u+164.07*datum.v+58)/datum.tw","as":"tx"},
{"calculate":"(95.5*datum.u-57.5*datum.v+168)/datum.tw","as":"ty"},
{"calculate":"datum.fx+(datum.tx-datum.fx)*datum.t","as":"X"},
{"calculate":"datum.fy+(datum.ty-datum.fy)*datum.t","as":"Y"},
{"calculate":"datum.axis=='ratio'?datum.X+8:datum.X","as":"X2"},
{"calculate":"datum.axis=='ratio'?datum.Y:datum.Y-8","as":"Y2"},
{"window":[{"op":"row_number","as":"i"}]}
],
"encoding":{
"x":{"field":"X","type":"quantitative","scale":{"domain":[0,685],"nice":false,"zero":false},"axis":null},
"y":{"field":"Y","type":"quantitative","scale":{"domain":[665,0],"nice":false,"zero":false},"axis":null}
},
"layer":[
{"transform":[{"filter":"datum.set=='w'"}],"mark":{"type":"line","interpolate":"linear"},"encoding":{"detail":{"field":"id"},"order":{"field":"i"},"stroke":{"field":"tone","type":"nominal","scale":{"domain":["grid","frame","axis"],"range":["#222222","#8c8c8c","#111111"]},"legend":null},"strokeWidth":{"field":"tone","type":"nominal","scale":{"domain":["grid","frame","axis"],"range":[1.2,1.6,1.2]},"legend":null}}},
{"transform":[{"filter":"datum.set=='p' && datum.part=='main'"}],"mark":{"type":"line","stroke":"#161616","strokeWidth":1.4,"strokeJoin":"round"},"encoding":{"detail":{"field":"id"},"order":{"field":"i"},"fill":{"field":"band","type":"nominal","scale":{"domain":["0-1","1-2","2-3","3-5","5-6","6-8"],"range":["#4a4a4a","#949494","#a8a8a8","#cccccc","#dedede","#f3f3f3"]},"legend":null}}},
{"transform":[{"filter":"datum.set=='g' && datum.slope<=60"}],"mark":{"type":"line","stroke":"#161616","strokeWidth":1.4},"encoding":{"detail":{"field":"slope"},"order":{"field":"curvature"}}},
{"transform":[{"filter":"datum.set=='g' && datum.slope<=60"}],"mark":{"type":"line","stroke":"#161616","strokeWidth":1.4},"encoding":{"detail":{"field":"curvature"},"order":{"field":"slope"}}},
{"transform":[{"filter":"datum.set=='p' && datum.part=='s1'"}],"mark":{"type":"line","stroke":"#161616","strokeWidth":1.4,"strokeJoin":"round"},"encoding":{"detail":{"field":"id"},"order":{"field":"i"},"fill":{"field":"band","type":"nominal","scale":{"domain":["0-1","1-2","2-3","3-5","5-6","6-8"],"range":["#4a4a4a","#949494","#a8a8a8","#cccccc","#dedede","#f3f3f3"]},"legend":null}}},
{"transform":[{"filter":"datum.set=='g' && datum.slope>=60 && datum.slope<=70"}],"mark":{"type":"line","stroke":"#161616","strokeWidth":1.4},"encoding":{"detail":{"field":"curvature"},"order":{"field":"slope"}}},
{"transform":[{"filter":"datum.set=='p' && datum.part=='s2'"}],"mark":{"type":"line","stroke":"#161616","strokeWidth":1.4,"strokeJoin":"round"},"encoding":{"detail":{"field":"id"},"order":{"field":"i"},"fill":{"field":"band","type":"nominal","scale":{"domain":["0-1","1-2","2-3","3-5","5-6","6-8"],"range":["#4a4a4a","#949494","#a8a8a8","#cccccc","#dedede","#f3f3f3"]},"legend":null}}},
{"transform":[{"filter":"datum.set=='g' && datum.slope>=70"}],"mark":{"type":"line","stroke":"#161616","strokeWidth":1.4},"encoding":{"detail":{"field":"curvature"},"order":{"field":"slope"}}},
{"transform":[{"filter":"datum.set=='t'"}],"mark":{"type":"rule","stroke":"#111111","strokeWidth":1.2},"encoding":{"x2":{"field":"X2"},"y2":{"field":"Y2"}}},
{"transform":[{"filter":"datum.set=='t' && datum.axis!='ratio' && datum.label"}],"mark":{"type":"text","font":"Liberation Serif","fontSize":21,"angle":270,"align":"right","baseline":"middle","dx":-12,"dy":-3,"color":"#000"},"encoding":{"text":{"field":"label"}}},
{"transform":[{"filter":"datum.set=='t' && datum.axis=='ratio'"}],"mark":{"type":"text","font":"Liberation Serif","fontSize":21,"align":"right","baseline":"middle","dx":-3,"color":"#000"},"encoding":{"text":{"field":"label"}}},
{"transform":[{"filter":"datum.label=='Deformation ratio'"}],"mark":{"type":"text","font":"Liberation Serif","fontSize":21.3,"fontWeight":"bold","align":"center","baseline":"middle","dx":169,"dy":-94,"color":"#000"},"encoding":{"text":{"field":"label"}}},
{"transform":[{"filter":"datum.label=='Slope angle (deg)'"}],"mark":{"type":"text","font":"Liberation Serif","fontSize":20,"align":"center","baseline":"middle","dx":-29,"dy":93,"color":"#000"},"encoding":{"text":{"field":"label"}}},
{"transform":[{"filter":"datum.label=='Curvature'"}],"mark":{"type":"text","font":"Liberation Serif","fontSize":21,"align":"center","baseline":"middle","dx":30,"dy":85,"color":"#000"},"encoding":{"text":{"field":"label"}}},
{"transform":[{"filter":"datum.label=='(Surface/cutter)'"}],"mark":{"type":"text","font":"Liberation Serif","fontSize":21,"align":"center","baseline":"middle","dx":32,"dy":111,"color":"#000"},"encoding":{"text":{"field":"label"}}},
{"transform":[{"filter":"datum.label=='Deforantion ratio (%)'"}],"mark":{"type":"text","font":"Liberation Serif","fontSize":21,"angle":270,"align":"center","baseline":"middle","dx":25,"dy":-42,"color":"#000"},"encoding":{"text":{"field":"label"}}}
]}
